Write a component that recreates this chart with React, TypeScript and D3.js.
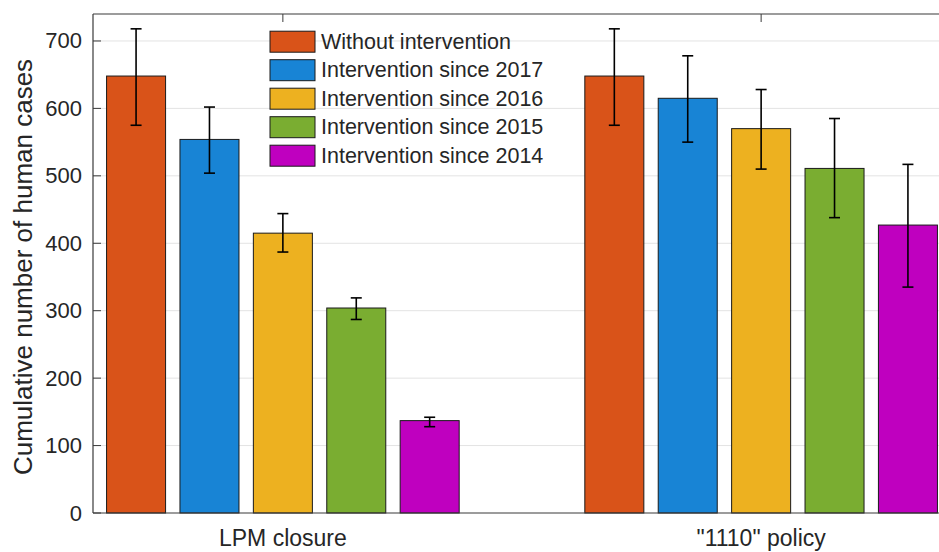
import React from "react";
import * as d3 from "d3";

const groups = ["LPM closure", "\"1110\" policy"];
const seriesNames = [
  "Without intervention",
  "Intervention since 2017",
  "Intervention since 2016",
  "Intervention since 2015",
  "Intervention since 2014",
];
const seriesColors = ["#D95319", "#1884D5", "#EDB120", "#7AAD31", "#BF00BF"];
const lpmValues = [648, 554, 415, 304, 137];
const lpmLow = [575, 504, 387, 287, 128];
const lpmHigh = [718, 602, 444, 319, 142];
const policyValues = [648, 615, 570, 511, 427];
const policyLow = [575, 550, 510, 438, 335];
const policyHigh = [718, 678, 628, 585, 517];
const yTicks = [0, 100, 200, 300, 400, 500, 600, 700];

const values = [lpmValues, policyValues];
const lows = [lpmLow, policyLow];
const highs = [lpmHigh, policyHigh];

const W = 939;
const H = 552;
const left = 93;
const right = 951;
const top = 14;
const bottom = 513;
const textColor = "#262626";
const axisColor = "#3a3a3a";
const font = "'Liberation Sans', Arial, Helvetica, sans-serif";

export default function App() {
  const x = d3.scaleLinear().domain([0.603, 2.397]).range([left, right]);
  const y = d3.scaleLinear().domain([0, 740]).range([bottom, top]);
  const inner = d3
    .scaleBand<string>()
    .domain(seriesNames)
    .range([-183.5, 183.5])
    .paddingInner(0.196)
    .paddingOuter(0.098);
  const bw = inner.bandwidth();
  const cap = 5.5;

  return (
    <svg
      width={W}
      height={H}
      style={{ position: "absolute", left: 0, top: 0, display: "block", background: "#fff" }}
      fontFamily={font}
    >
      {/* gridlines */}
      {yTicks.filter((t) => t > 0).map((t) => (
        <line key={"g" + t} x1={left} x2={right} y1={y(t)} y2={y(t)} stroke="#E3E3E3" strokeWidth={1} />
      ))}
      {/* bars */}
      {groups.map((g, gi) =>
        seriesNames.map((s, si) => {
          const cx = x(gi + 1);
          const bx = cx + (inner(s) as number);
          const v = values[gi][si];
          return (
            <rect
              key={g + s}
              x={bx}
              y={y(v)}
              width={bw}
              height={y(0) - y(v)}
              fill={seriesColors[si]}
              stroke="#1a1a1a"
              strokeWidth={1}
            />
          );
        })
      )}
      {/* error bars */}
      {groups.map((g, gi) =>
        seriesNames.map((s, si) => {
          const cx = x(gi + 1) + (inner(s) as number) + bw / 2;
          const lo = y(lows[gi][si]);
          const hi = y(highs[gi][si]);
          return (
            <g key={"e" + g + s} stroke="#000" strokeWidth={1.6}>
              <line x1={cx} x2={cx} y1={lo} y2={hi} />
              <line x1={cx - cap} x2={cx + cap} y1={lo} y2={lo} />
              <line x1={cx - cap} x2={cx + cap} y1={hi} y2={hi} />
            </g>
          );
        })
      )}
      {/* axes */}
      <line x1={left} x2={left} y1={top} y2={bottom} stroke={axisColor} strokeWidth={1.2} />
      <line x1={left} x2={right} y1={bottom} y2={bottom} stroke={axisColor} strokeWidth={1.2} />
      <line x1={left} x2={right} y1={top} y2={top} stroke={axisColor} strokeWidth={1.2} />
      {yTicks.map((t) => (
        <g key={"t" + t}>
          <line x1={left} x2={left + 8} y1={y(t)} y2={y(t)} stroke={axisColor} strokeWidth={1} />
          <text
            x={left - 11}
            y={y(t)}
            textAnchor="end"
            dominantBaseline="central"
            fontSize={22}
            fill={textColor}
          >
            {t}
          </text>
        </g>
      ))}
      {groups.map((g, gi) => (
        <g key={"x" + g}>
          <line x1={x(gi + 1)} x2={x(gi + 1)} y1={top} y2={top + 8} stroke={axisColor} strokeWidth={1} />
          <text x={x(gi + 1)} y={546} textAnchor="middle" fontSize={23} fill={textColor}>
            {g}
          </text>
        </g>
      ))}
      <text
        transform={`translate(32,267) rotate(-90)`}
        textAnchor="middle"
        fontSize={26}
        fill={textColor}
      >
        Cumulative number of human cases
      </text>
      {/* legend */}
      {seriesNames.map((s, si) => {
        const cy = 41.7 + si * 28.5;
        return (
          <g key={"l" + s}>
            <rect x={270} y={cy - 10.5} width={45} height={21} fill={seriesColors[si]} stroke="#1a1a1a" strokeWidth={1} />
            <text x={321} y={cy} dominantBaseline="central" fontSize={21.5} fill={textColor}>
              {s}
            </text>
          </g>
        );
      })}
    </svg>
  );
}
